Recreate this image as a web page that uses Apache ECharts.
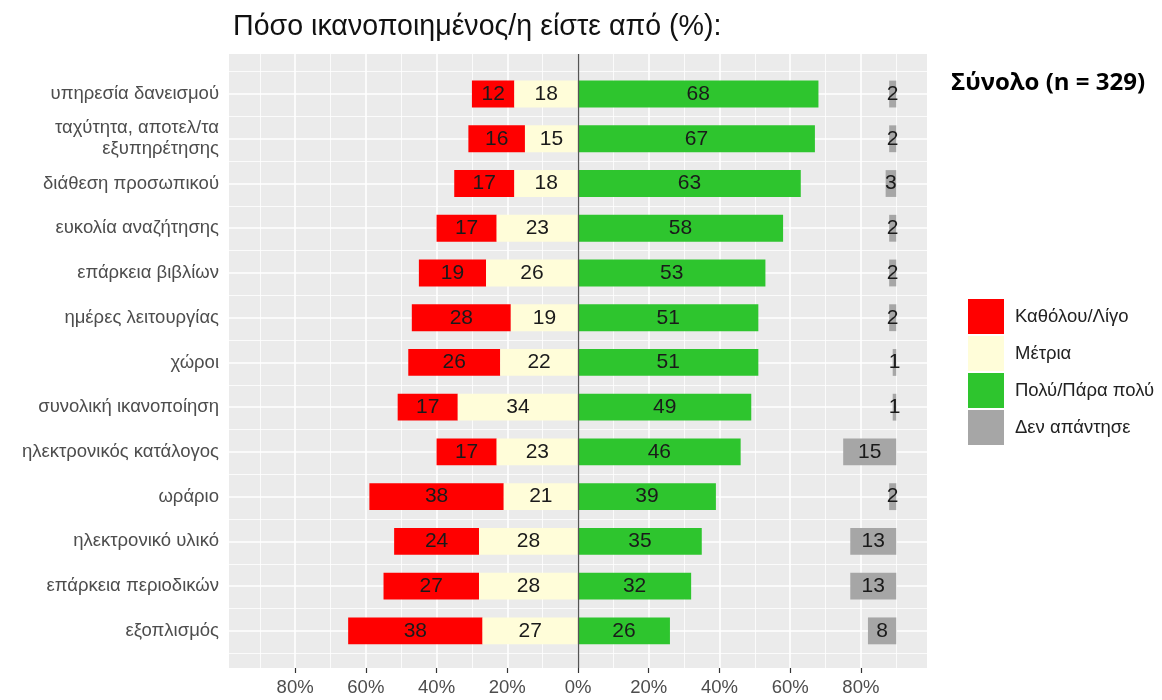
<!DOCTYPE html>
<html>
<head>
<meta charset="utf-8">
<script src="https://cdn.jsdelivr.net/npm/echarts@6/dist/echarts.min.js"></script>
<style>
  html, body { margin: 0; padding: 0; background: #fff; }
  #chart { width: 1162px; height: 700px; }
</style>
</head>
<body>
<div id="chart"></div>
<script>
// Survey items, top to bottom
const categories = [
  'υπηρεσία δανεισμού',
  'ταχύτητα, αποτελ/τα\nεξυπηρέτησης',
  'διάθεση προσωπικού',
  'ευκολία αναζήτησης',
  'επάρκεια βιβλίων',
  'ημέρες λειτουργίας',
  'χώροι',
  'συνολική ικανοποίηση',
  'ηλεκτρονικός κατάλογος',
  'ωράριο',
  'ηλεκτρονικό υλικό',
  'επάρκεια περιοδικών',
  'εξοπλισμός'
];
// Percentages per answer group
const katholouLigo = [12, 16, 17, 17, 19, 28, 26, 17, 17, 38, 24, 27, 38];
const metria       = [18, 15, 18, 23, 26, 19, 22, 34, 23, 21, 28, 28, 27];
const polyParaPoly = [68, 67, 63, 58, 53, 51, 51, 49, 46, 39, 35, 32, 26];
const denApantise  = [ 2,  2,  3,  2,  2,  2,  1,  1, 15,  2, 13, 13,  8];

const seriesNames = ['Καθόλου/Λίγο', 'Μέτρια', 'Πολύ/Πάρα πολύ', 'Δεν απάντησε'];
const xTicks = [-80, -60, -40, -20, 0, 20, 40, 60, 80];
const xMinor = [-90, -70, -50, -30, -10, 10, 30, 50, 70, 90];

const colors = ['#FF0000', '#FFFDD9', '#2EC52E', '#A6A6A6'];
const NA_ANCHOR = 90;      // right edge of the no-answer column
const X_MIN = -98.7, X_MAX = 98.7;
const Y_MIN = 0.105, Y_MAX = 13.83;
const FONT = 'Liberation Sans, Arial, sans-serif';

const rows = categories.map((_, i) => i + 1);
const yMinor = [0.5].concat(rows.map(r => r + 0.5));

// [row, start, end, value]
const redData   = rows.map((r, i) => [r, -(metria[i] + katholouLigo[i]), -metria[i], katholouLigo[i]]);
const creamData = rows.map((r, i) => [r, -metria[i], 0, metria[i]]);
const greenData = rows.map((r, i) => [r, 0, polyParaPoly[i], polyParaPoly[i]]);
const greyData  = rows.map((r, i) => [r, NA_ANCHOR - denApantise[i], NA_ANCHOR, denApantise[i]]);

function barRenderer(fill) {
  return function (params, api) {
    const row = api.value(0);
    const p0 = api.coord([api.value(1), row]);
    const p1 = api.coord([api.value(2), row]);
    const h = api.size([0, 1])[1] * 0.6;
    return {
      type: 'rect',
      shape: {
        x: Math.min(p0[0], p1[0]),
        y: p0[1] - h / 2,
        width: Math.abs(p1[0] - p0[0]),
        height: h
      },
      style: { fill: fill },
      textContent: {
        type: 'text',
        style: {
          text: String(api.value(3)),
          fill: '#1a1a1a',
          fontSize: 21,
          fontFamily: FONT
        }
      },
      textConfig: { position: 'inside' }
    };
  };
}

function makeSeries(name, data, color, extra) {
  return Object.assign({
    type: 'custom',
    name: name,
    data: data,
    xAxisIndex: 0,
    yAxisIndex: 0,
    encode: { x: [1, 2], y: 0 },
    itemStyle: { color: color },
    renderItem: barRenderer(color),
    silent: true
  }, extra || {});
}

const chart = echarts.init(document.getElementById('chart'));
chart.setOption({
  animation: false,
  backgroundColor: '#fff',
  textStyle: { fontFamily: FONT },
  title: [
    {
      text: 'Πόσο ικανοποιημένος/η είστε από (%):',
      left: 228, top: 8,
      textStyle: { fontSize: 28.6, fontWeight: 'normal', color: '#111', fontFamily: FONT }
    },
    {
      text: 'Σύνολο (n = 329)',
      left: 946, top: 66,
      textStyle: { fontSize: 24, fontWeight: 'bold', color: '#000', fontFamily: 'Open Sans, sans-serif' }
    }
  ],
  legend: {
    orient: 'vertical',
    left: 963, top: 294,
    itemWidth: 36, itemHeight: 35, itemGap: 2,
    icon: 'rect',
    data: seriesNames,
    textStyle: { fontSize: 18.5, color: '#222', padding: [0, 0, 0, 6], fontFamily: FONT },
    selectedMode: false
  },
  grid: { left: 229, right: 235, top: 54, bottom: 32, show: true, backgroundColor: '#EBEBEB', borderWidth: 0 },
  xAxis: [
    {
      type: 'value', min: X_MIN, max: X_MAX, position: 'bottom',
      axisLine: { show: false },
      axisTick: { show: true, customValues: xTicks, length: 5, lineStyle: { color: '#333', width: 1.2 } },
      axisLabel: { customValues: xTicks, formatter: v => Math.abs(v) + '%', color: '#4D4D4D', fontSize: 18.5, margin: 10 },
      splitLine: { show: true, lineStyle: { color: '#FFFFFF', width: 1.6 } }
    },
    {
      type: 'value', min: X_MIN, max: X_MAX, position: 'top',
      axisLine: { show: false },
      axisTick: { show: false, customValues: xMinor },
      axisLabel: { show: false, customValues: xMinor },
      splitLine: { show: true, lineStyle: { color: '#FFFFFF', width: 0.8 } }
    }
  ],
  yAxis: [
    {
      type: 'value', inverse: true, min: Y_MIN, max: Y_MAX, position: 'left',
      axisLine: { show: false },
      axisTick: { show: true, customValues: rows, length: 4, lineStyle: { color: '#333', width: 1.2 } },
      axisLabel: {
        customValues: rows,
        formatter: v => categories[Math.round(v) - 1] || '',
        color: '#4D4D4D', fontSize: 18.5, margin: 10, align: 'right', lineHeight: 21,
        padding: [5, 0, 0, 0]
      },
      splitLine: { show: true, lineStyle: { color: '#FFFFFF', width: 1.6 } }
    },
    {
      type: 'value', inverse: true, min: Y_MIN, max: Y_MAX, position: 'right',
      axisLine: { show: false },
      axisTick: { show: false, customValues: yMinor },
      axisLabel: { show: false, customValues: yMinor },
      splitLine: { show: true, lineStyle: { color: '#FFFFFF', width: 0.8 } }
    }
  ],
  series: [
    makeSeries(seriesNames[0], redData, colors[0]),
    makeSeries(seriesNames[1], creamData, colors[1]),
    makeSeries(seriesNames[2], greenData, colors[2], {
      markLine: {
        silent: true, symbol: 'none', label: { show: false },
        lineStyle: { color: '#555', width: 1.3, type: 'solid' },
        data: [{ xAxis: 0 }]
      }
    }),
    makeSeries(seriesNames[3], greyData, colors[3])
  ]
});
</script>
</body>
</html>
